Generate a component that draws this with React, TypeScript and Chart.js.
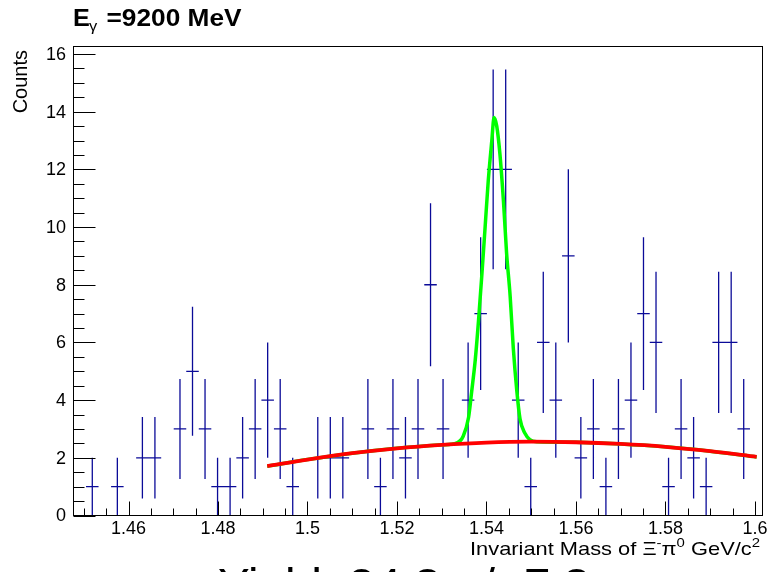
import React, { useEffect, useRef } from "react";
import { Chart, registerables } from "chart.js";

Chart.register(...registerables);

// ---- histogram data (55 bins) ----
const binLow = 1.4477;
const binWidth = 0.0028;
const counts = [
  0, 1, 0, 1, 0, 2, 2, 0, 3, 5,
  3, 1, 1, 2, 3, 4, 3, 1, 0, 2,
  2, 2, 0, 3, 1, 3, 2, 3, 8, 3,
  0, 4, 7, 12, 12, 4, 1, 6, 4, 9,
  2, 3, 1, 3, 4, 7, 6, 1, 3, 2,
  1, 6, 6, 3, 0,
];

// ---- background fit (red) ----
const bgX = [1.491, 1.5, 1.51, 1.52, 1.53, 1.54, 1.55, 1.56, 1.57, 1.58, 1.59, 1.6004];
const bgY = [1.71, 1.94, 2.16, 2.33, 2.45, 2.53, 2.56, 2.54, 2.48, 2.38, 2.23, 2.03];

// ---- total fit (green) ----
const fitX = [
  1.491, 1.5, 1.51, 1.52, 1.53, 1.5334, 1.5348, 1.536, 1.5367, 1.5375,
  1.5382, 1.539, 1.5397, 1.5404, 1.5412, 1.5417, 1.5423, 1.543, 1.5438, 1.5445,
  1.5453, 1.546, 1.5468, 1.5475, 1.5486, 1.5497, 1.5513, 1.56, 1.57, 1.58,
  1.59, 1.6004,
];
const fitY = [
  1.71, 1.94, 2.16, 2.33, 2.45, 2.52, 2.75, 3.4, 4.3, 5.4,
  6.7, 8.4, 10.0, 11.6, 13.0, 13.8, 13.5, 12.55, 10.9, 9.1,
  7.6, 5.8, 4.3, 3.35, 2.85, 2.63, 2.56, 2.54, 2.48, 2.38,
  2.23, 2.03,
];

// ---- axes ----
const xMin = 1.4477;
const xMax = 1.6017;
const yMin = 0;
const yMax = 16.26;
const xTickValues = [1.46, 1.48, 1.5, 1.52, 1.54, 1.56, 1.58, 1.6];
const xTickLabels = ["1.46", "1.48", "1.5", "1.52", "1.54", "1.56", "1.58", "1.6"];
const xMinorStart = 1.45;
const xMinorStep = 0.005;
const yTickValues = [0, 2, 4, 6, 8, 10, 12, 14, 16];
const yTickLabels = ["0", "2", "4", "6", "8", "10", "12", "14", "16"];
const yMinorStep = 0.5;

const titleText = "=9200 MeV";
const yTitle = "Counts";
const bottomText = "Yield: 24.3 +/- 7.3";

const F = "'Liberation Sans', Arial, Helvetica, sans-serif";

type Seg = { t: string; f: string; dy?: number };

function stretchText(ctx: CanvasRenderingContext2D, t: string, x: number, y: number, sx: number) {
  ctx.save();
  ctx.translate(x, y);
  ctx.scale(sx, 1);
  ctx.fillText(t, 0, 0);
  ctx.restore();
}

function drawRich(ctx: CanvasRenderingContext2D, segs: Seg[], right: number, y: number, targetWidth: number) {
  ctx.textAlign = "left";
  let total = 0;
  for (const s of segs) {
    ctx.font = s.f;
    total += ctx.measureText(s.t).width;
  }
  const sx = targetWidth / total;
  ctx.save();
  ctx.translate(right - targetWidth, y);
  ctx.scale(sx, 1);
  let cx = 0;
  for (const s of segs) {
    ctx.font = s.f;
    ctx.fillText(s.t, cx, s.dy || 0);
    cx += ctx.measureText(s.t).width;
  }
  ctx.restore();
}

const rootPlugin = {
  id: "rootStyle",
  afterDraw(chart: any) {
    const { ctx, chartArea: a, scales } = chart;
    const xs = scales.x;
    const ys = scales.y;
    ctx.save();
    ctx.strokeStyle = "#000";
    ctx.fillStyle = "#000";
    ctx.lineWidth = 1;
    // frame
    ctx.strokeRect(a.left, a.top, a.right - a.left, a.bottom - a.top);

    // x ticks
    ctx.beginPath();
    for (let i = 0; i <= 30; i++) {
      const v = xMinorStart + i * xMinorStep;
      const px = Math.round(xs.getPixelForValue(v)) + 0.5;
      if (px < a.left || px > a.right) continue;
      const major = xTickValues.some((t) => Math.abs(t - v) < 1e-6);
      const len = major ? 14 : 7;
      ctx.moveTo(px, a.bottom);
      ctx.lineTo(px, a.bottom - len);
    }
    // y ticks
    for (let v = yMin; v <= 16.0001; v += yMinorStep) {
      const py = Math.round(ys.getPixelForValue(v)) + 0.5;
      const major = yTickValues.some((t) => Math.abs(t - v) < 1e-6);
      const len = major ? 22 : 11;
      ctx.moveTo(a.left, py);
      ctx.lineTo(a.left + len, py);
    }
    ctx.stroke();

    // tick labels
    ctx.font = `18px ${F}`;
    ctx.textAlign = "center";
    ctx.textBaseline = "alphabetic";
    xTickValues.forEach((v, i) => {
      ctx.fillText(xTickLabels[i], xs.getPixelForValue(v), 534);
    });
    ctx.textAlign = "right";
    ctx.textBaseline = "middle";
    yTickValues.forEach((v, i) => {
      ctx.fillText(yTickLabels[i], 66, ys.getPixelForValue(v) + 1);
    });

    // title
    ctx.textBaseline = "alphabetic";
    ctx.textAlign = "left";
    ctx.font = `bold 24px ${F}`;
    stretchText(ctx, "E", 73, 26, 1.05);
    ctx.font = `15px ${F}`;
    stretchText(ctx, "\u03b3", 89, 31, 1.1);
    ctx.font = `bold 24px ${F}`;
    const tw = ctx.measureText(titleText).width;
    stretchText(ctx, titleText, 106.5, 26, 135 / tw);

    // y title
    ctx.save();
    ctx.translate(27, 50);
    ctx.rotate(-Math.PI / 2);
    ctx.textAlign = "right";
    ctx.font = `20px ${F}`;
    ctx.fillText(yTitle, 0, 0);
    ctx.restore();

    // x title
    const big = `19px ${F}`;
    const sup = `13px ${F}`;
    drawRich(
      ctx,
      [
        { t: "Invariant Mass of \u039e", f: big },
        { t: "-", f: sup, dy: -8 },
        { t: "\u03c0", f: big },
        { t: "0", f: sup, dy: -8 },
        { t: " GeV/c", f: big },
        { t: "2", f: sup, dy: -8 },
      ],
      760,
      555,
      290
    );

    // bottom (cut-off) text
    ctx.textAlign = "left";
    ctx.font = `46px ${F}`;
    const bw = ctx.measureText(bottomText).width;
    stretchText(ctx, bottomText, 218, 601, 372 / bw);

    ctx.restore();
  },
};

export default function App() {
  const ref = useRef<HTMLCanvasElement | null>(null);
  useEffect(() => {
    if (!ref.current) return;
    const vErr: any[] = [];
    const hErr: any[] = [];
    counts.forEach((c, k) => {
      if (c <= 0) return;
      const xc = binLow + (k + 0.5) * binWidth;
      const e = Math.sqrt(c);
      vErr.push({ x: xc, y: c - e }, { x: xc, y: c + e }, { x: xc, y: null });
      hErr.push({ x: xc - binWidth / 2, y: c }, { x: xc + binWidth / 2, y: c }, { x: xc + binWidth / 2, y: null });
    });
    const bg = bgX.map((x, i) => ({ x, y: bgY[i] }));
    const fit = fitX.map((x, i) => ({ x, y: fitY[i] }));
    const chart = new Chart(ref.current, {
      type: "line",
      data: {
        datasets: [
          { data: bg, borderColor: "#ff0000", borderWidth: 3.8, pointRadius: 0, cubicInterpolationMode: "monotone", order: 0 } as any,
          { data: fit, borderColor: "#00ff00", borderWidth: 3.5, pointRadius: 0, cubicInterpolationMode: "monotone", order: 1 } as any,
          { data: vErr, borderColor: "#0b0b98", borderWidth: 1.3, pointRadius: 0, spanGaps: false, tension: 0, order: 2 } as any,
          { data: hErr, borderColor: "#0b0b98", borderWidth: 1.3, pointRadius: 0, spanGaps: false, tension: 0, order: 3 } as any,
        ],
      },
      options: {
        responsive: false,
        animation: false,
        layout: { padding: { left: 73.5, top: 46.5, right: 6.5, bottom: 56.5 } },
        scales: {
          x: { type: "linear", min: xMin, max: xMax, display: false },
          y: { type: "linear", min: yMin, max: yMax, display: false },
        },
        plugins: { legend: { display: false }, tooltip: { enabled: false }, title: { display: false } },
        events: [],
      },
      plugins: [rootPlugin],
    });
    return () => chart.destroy();
  }, []);
  return (
    <div style={{ position: "fixed", left: 0, top: 0, width: 769, height: 572, background: "#fff" }}>
      <canvas ref={ref} width={769} height={572} style={{ width: 769, height: 572, display: "block" }} />
    </div>
  );
}
